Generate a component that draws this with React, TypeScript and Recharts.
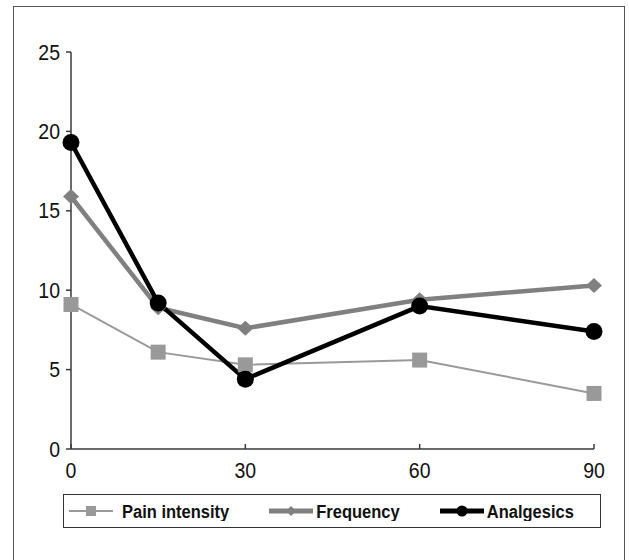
import React from "react";
import {
  LineChart,
  Line,
  XAxis,
  YAxis,
  Legend,
} from "recharts";

const minutes = [0, 15, 30, 60, 90];
const painIntensity = [9.1, 6.1, 5.3, 5.6, 3.5];
const frequency = [15.9, 8.9, 7.6, 9.4, 10.3];
const analgesics = [19.3, 9.2, 4.4, 9.0, 7.4];
const xTicks = [0, 30, 60, 90];
const yTicks = [0, 5, 10, 15, 20, 25];

const data = minutes.map((m, i) => ({
  minute: m,
  pain: painIntensity[i],
  frequency: frequency[i],
  analgesics: analgesics[i],
}));

const AXIS = "#3a3a3a";
const FONT = "Arial, 'Liberation Sans', sans-serif";

// labels in the source look a bit stretched vertically
const XTick = (props: any) => {
  const { x, y, payload } = props;
  return (
    <text
      transform={`translate(${x},${y}) scale(1,1.1)`}
      textAnchor="middle"
      dy="0.71em"
      fill="#111"
      fontSize={19.5}
      fontFamily={FONT}
    >
      {payload.value}
    </text>
  );
};

const YTick = (props: any) => {
  const { x, y, payload } = props;
  return (
    <text
      transform={`translate(${x},${y}) scale(1,1.1)`}
      textAnchor="end"
      dy="0.355em"
      fill="#111"
      fontSize={19.5}
      fontFamily={FONT}
    >
      {payload.value}
    </text>
  );
};

const SquareDot = (props: any) => {
  const { cx, cy, key } = props;
  if (cx == null || cy == null) return null;
  return <rect key={key} x={cx - 7.5} y={cy - 7.5} width={15} height={15} fill="#999999" />;
};

const DiamondDot = (props: any) => {
  const { cx, cy, key } = props;
  if (cx == null || cy == null) return null;
  const w = 8;
  const h = 7.5;
  return (
    <polygon
      key={key}
      points={`${cx},${cy - h} ${cx + w},${cy} ${cx},${cy + h} ${cx - w},${cy}`}
      fill="#808080"
    />
  );
};

const CircleDot = (props: any) => {
  const { cx, cy, key } = props;
  if (cx == null || cy == null) return null;
  return <circle key={key} cx={cx} cy={cy} r={8.5} fill="#000000" />;
};

const legendItems = [
  { label: "Pain intensity", color: "#999999", width: 2, marker: "square" },
  { label: "Frequency", color: "#808080", width: 5, marker: "diamond" },
  { label: "Analgesics", color: "#000000", width: 5, marker: "circle" },
];

const LegendIcon = ({ color, width, marker }: any) => (
  <svg width={44} height={16} style={{ display: "block" }}>
    <line x1={0} y1={8} x2={44} y2={8} stroke={color} strokeWidth={width} />
    {marker === "square" && <rect x={17} y={3} width={10} height={10} fill={color} />}
    {marker === "diamond" && <polygon points="22,3 27,8 22,13 17,8" fill={color} />}
    {marker === "circle" && <circle cx={22} cy={8} r={5.5} fill={color} />}
  </svg>
);

const LegendBox = () => (
  <div
    style={{
      boxSizing: "border-box",
      width: "100%",
      height: "100%",
      border: "1.5px solid #333",
      display: "flex",
      alignItems: "center",
      paddingLeft: 5,
      gap: 40,
      fontFamily: FONT,
      fontWeight: "bold",
      fontSize: 16.5,
      color: "#111",
    }}
  >
    {legendItems.map((it, i) => (
      <div key={it.label} style={{ display: "flex", alignItems: "center" }}>
        <LegendIcon {...it} />
        <span
          style={{
            marginLeft: i === 0 ? 9 : 3,
            display: "inline-block",
            transform: "scaleY(1.1)",
          }}
        >
          {it.label}
        </span>
      </div>
    ))}
  </div>
);

export default function App() {
  return (
    <div
      style={{
        position: "absolute",
        left: 0,
        top: 0,
        width: 629,
        height: 560,
        overflow: "hidden",
        background: "#fff",
      }}
    >
      <div
        style={{
          position: "absolute",
          left: 13,
          top: 6,
          width: 612,
          height: 600,
          border: "1.5px solid #555",
          boxSizing: "border-box",
        }}
      />
      <div style={{ position: "absolute", left: 0, top: 0 }}>
        <LineChart
          width={629}
          height={560}
          data={data}
          margin={{ top: 52, right: 35, left: 0, bottom: 81 }}
        >
          <XAxis
            dataKey="minute"
            type="number"
            domain={[0, 90]}
            ticks={xTicks}
            height={30}
            tickSize={-5}
            tickMargin={19}
            stroke={AXIS}
            strokeWidth={1.5}
            tick={<XTick />}
            tickLine={{ stroke: AXIS, strokeWidth: 1.5 }}
          />
          <YAxis
            type="number"
            domain={[0, 25]}
            ticks={yTicks}
            width={71}
            tickSize={5}
            tickMargin={6}
            stroke={AXIS}
            strokeWidth={1.5}
            tick={<YTick />}
            tickLine={{ stroke: AXIS, strokeWidth: 1.5 }}
          />
          <Legend
            layout="horizontal"
            verticalAlign="middle"
            align="center"
            wrapperStyle={{ left: 63, top: 494, width: 538, height: 34 }}
            content={() => <LegendBox />}
          />
          <Line
            dataKey="pain"
            name="Pain intensity"
            stroke="#999999"
            strokeWidth={2}
            dot={SquareDot}
            activeDot={false}
            isAnimationActive={false}
          />
          <Line
            dataKey="frequency"
            name="Frequency"
            stroke="#808080"
            strokeWidth={4.5}
            dot={DiamondDot}
            activeDot={false}
            isAnimationActive={false}
          />
          <Line
            dataKey="analgesics"
            name="Analgesics"
            stroke="#000000"
            strokeWidth={4.5}
            dot={CircleDot}
            activeDot={false}
            isAnimationActive={false}
          />
        </LineChart>
      </div>
    </div>
  );
}
